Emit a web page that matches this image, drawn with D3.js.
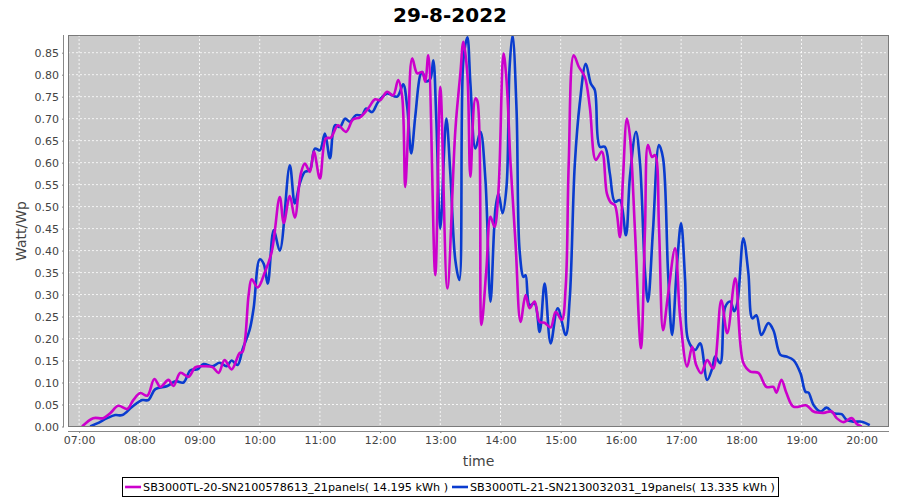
<!DOCTYPE html>
<html>
<head>
<meta charset="utf-8">
<script src="https://cdn.jsdelivr.net/npm/d3@7"></script>
<style>
  html, body { margin: 0; padding: 0; background: #fff; }
  svg { display: block; font-family: "DejaVu Sans", sans-serif; }
</style>
</head>
<body>
<svg id="chart" width="900" height="500"></svg>
<script>
const chartTitle = "29-8-2022";
const xAxisTitle = "time";
const yAxisTitle = "Watt/Wp";
const seriesNames = ["SB3000TL-20-SN2100578613_21panels( 14.195 kWh )", "SB3000TL-21-SN2130032031_19panels( 13.335 kWh )"];
const seriesColors = ["#cc00cc", "#0a3ccf"];
const xTickLabels = ["07:00","08:00","09:00","10:00","11:00","12:00","13:00","14:00","15:00","16:00","17:00","18:00","19:00","20:00"];
const yTickValues = [0,0.05,0.10,0.15,0.20,0.25,0.30,0.35,0.40,0.45,0.50,0.55,0.60,0.65,0.70,0.75,0.80,0.85];

const magentaTimes = ["07:03","07:14","07:24","07:31","07:39","07:48","07:54","08:01","08:08","08:15",
"08:21","08:29","08:34","08:41","08:49","08:56","09:04","09:13","09:19","09:25",
"09:32","09:40","09:43","09:49","09:52","09:58","10:05","10:12","10:20","10:24",
"10:30","10:35","10:41","10:45","10:50","10:54","11:00","11:06","11:11","11:18",
"11:26","11:33","11:40","11:48","11:55","12:00","12:07","12:13","12:18","12:22",
"12:25","12:28","12:32","12:37","12:42","12:45","12:48","12:55","13:00","13:07",
"13:15","13:20","13:23","13:27","13:30","13:35","13:37","13:41","13:46","13:50",
"13:54","13:58","14:03","14:06","14:10","14:15","14:20","14:25","14:29","14:34",
"14:39","14:44","14:50","14:55","15:01","15:05","15:08","15:13","15:18","15:24",
"15:29","15:35","15:41","15:46","15:50","15:54","15:59","16:02","16:06","16:09",
"16:14","16:20","16:24","16:27","16:31","16:34","16:38","16:42","16:47","16:54",
"16:59","17:06","17:11","17:15","17:20","17:26","17:32","17:40","17:46","17:54",
"18:02","18:09","18:17","18:25","18:32","18:35","18:40","18:45","18:52","19:05",
"19:12","19:22","19:30","19:35","19:42","19:50","19:55","20:00"];
const magentaValues = [0.0,0.019,0.019,0.03,0.047,0.04,0.06,0.076,0.07,0.108,
0.09,0.106,0.092,0.122,0.113,0.135,0.137,0.135,0.122,0.151,
0.13,0.167,0.17,0.30,0.335,0.316,0.35,0.397,0.522,0.463,
0.524,0.475,0.575,0.598,0.579,0.625,0.564,0.655,0.657,0.685,
0.67,0.698,0.703,0.723,0.744,0.742,0.761,0.753,0.788,0.75,
0.545,0.674,0.837,0.803,0.806,0.784,0.844,0.344,0.772,0.314,
0.674,0.803,0.875,0.80,0.568,0.746,0.74,0.231,0.36,0.477,
0.454,0.537,0.848,0.788,0.598,0.416,0.238,0.299,0.269,0.284,
0.238,0.236,0.225,0.261,0.242,0.318,0.598,0.844,0.818,0.795,
0.727,0.606,0.625,0.53,0.509,0.503,0.431,0.56,0.70,0.66,
0.447,0.178,0.447,0.64,0.613,0.617,0.45,0.219,0.30,0.405,
0.25,0.136,0.181,0.14,0.121,0.151,0.132,0.287,0.212,0.337,
0.145,0.125,0.122,0.09,0.09,0.077,0.106,0.076,0.045,0.048,
0.034,0.031,0.034,0.019,0.01,0.019,0.006,0.0];

const blueTimes = ["07:11","07:18","07:28","07:36","07:43","07:53","08:03","08:09","08:16","08:28",
"08:36","08:44","08:51","08:58","09:04","09:13","09:20","09:27","09:32","09:38",
"09:43","09:50","09:54","10:00","10:04","10:08","10:14","10:20","10:30","10:35",
"10:40","10:45","10:50","10:55","11:00","11:05","11:10","11:15","11:20","11:25",
"11:30","11:36","11:42","11:46","11:52","11:58","12:07","12:17","12:23","12:27",
"12:31","12:35","12:40","12:42","12:46","12:50","12:53","12:56","13:00","13:06",
"13:10","13:15","13:19","13:23","13:27","13:30","13:35","13:40","13:45","13:50",
"13:55","13:58","14:02","14:06","14:09","14:12","14:16","14:19","14:23","14:25",
"14:29","14:34","14:39","14:44","14:50","14:57","15:05","15:09","15:14","15:19",
"15:25","15:30","15:34","15:39","15:44","15:49","15:54","15:59","16:05","16:09",
"16:15","16:19","16:24","16:27","16:32","16:38","16:42","16:47","16:51","16:56",
"17:00","17:04","17:07","17:14","17:19","17:26","17:31","17:34","17:39","17:44",
"17:49","17:53","17:56","18:02","18:07","18:11","18:15","18:20","18:27","18:32",
"18:39","18:45","18:52","18:59","19:04","19:07","19:12","19:19","19:25","19:32",
"19:40","19:45","19:52","20:00","20:08"];
const blueValues = [0.0,0.007,0.019,0.026,0.026,0.045,0.06,0.06,0.085,0.092,
0.103,0.10,0.128,0.13,0.142,0.137,0.145,0.137,0.15,0.14,
0.176,0.22,0.27,0.38,0.37,0.325,0.447,0.40,0.594,0.507,
0.553,0.579,0.583,0.632,0.628,0.666,0.61,0.685,0.681,0.70,
0.693,0.708,0.708,0.723,0.715,0.738,0.757,0.75,0.778,0.727,
0.621,0.704,0.799,0.806,0.785,0.79,0.833,0.70,0.45,0.70,
0.575,0.378,0.333,0.833,0.885,0.78,0.632,0.67,0.56,0.284,
0.496,0.53,0.485,0.545,0.814,0.89,0.72,0.401,0.34,0.344,
0.276,0.28,0.215,0.325,0.189,0.269,0.208,0.291,0.594,0.735,
0.825,0.78,0.765,0.636,0.636,0.575,0.511,0.515,0.435,0.568,
0.67,0.60,0.352,0.284,0.447,0.64,0.61,0.35,0.208,0.371,
0.462,0.333,0.197,0.174,0.189,0.106,0.132,0.159,0.144,0.272,
0.284,0.262,0.28,0.428,0.35,0.246,0.253,0.208,0.235,0.219,
0.163,0.159,0.151,0.121,0.079,0.077,0.049,0.034,0.043,0.03,
0.028,0.015,0.011,0.011,0.003];

const parseT = d3.timeParse("%H:%M");
const svg = d3.select("#chart");

const plot = {left: 68, right: 889, top: 35, bottom: 427};

const x = d3.scaleTime()
  .domain([parseT("07:00"), parseT("20:00")])
  .range([79.1, 861.7]);
const y = d3.scaleLinear()
  .domain([0, 0.85])
  .range([426.5, 52.7]);

// title
svg.append("text")
  .attr("x", 450).attr("y", 22)
  .attr("text-anchor", "middle")
  .attr("font-size", 20).attr("font-weight", "bold")
  .attr("fill", "#000")
  .text(chartTitle);

// plot background
svg.append("rect")
  .attr("x", plot.left).attr("y", plot.top)
  .attr("width", plot.right - plot.left).attr("height", plot.bottom - plot.top)
  .attr("fill", "#cbcbcb");

svg.append("defs").append("clipPath").attr("id", "clip")
  .append("rect")
  .attr("x", plot.left).attr("y", plot.top)
  .attr("width", plot.right - plot.left).attr("height", plot.bottom - plot.top);

// grid
const grid = svg.append("g");
grid.selectAll("line.v").data(xTickLabels).join("line")
  .attr("x1", d => x(parseT(d))).attr("x2", d => x(parseT(d)))
  .attr("y1", plot.top).attr("y2", plot.bottom)
  .attr("stroke", "#fff").attr("stroke-width", 0.8).attr("stroke-dasharray", "2,2");
grid.selectAll("line.h").data(yTickValues).join("line")
  .attr("x1", plot.left).attr("x2", plot.right)
  .attr("y1", d => y(d)).attr("y2", d => y(d))
  .attr("stroke", "#fff").attr("stroke-width", 0.8).attr("stroke-dasharray", "2,2");

// series
const seriesData = [
  magentaTimes.map((t, i) => ({t: parseT(t), v: magentaValues[i]})),
  blueTimes.map((t, i) => ({t: parseT(t), v: blueValues[i]}))
];
const line = d3.line()
  .x(d => x(d.t)).y(d => y(d.v))
  .curve(d3.curveCatmullRom.alpha(0.5));
const lines = svg.append("g").attr("clip-path", "url(#clip)");
[1, 0].forEach(i => {
  lines.append("path")
    .attr("d", line(seriesData[i]))
    .attr("fill", "none")
    .attr("stroke", seriesColors[i])
    .attr("stroke-width", 2.6)
    .attr("stroke-linejoin", "round");
});

// plot outline
svg.append("rect")
  .attr("x", plot.left + 0.5).attr("y", plot.top + 0.5)
  .attr("width", plot.right - plot.left - 1).attr("height", plot.bottom - plot.top - 1)
  .attr("fill", "none").attr("stroke", "#7a7a7a").attr("stroke-width", 1);

// axes
const xAxis = d3.axisBottom(x)
  .tickValues(xTickLabels.map(parseT))
  .tickFormat(d3.timeFormat("%H:%M"))
  .tickSizeInner(2).tickSizeOuter(0).tickPadding(3);
const gx = svg.append("g").attr("transform", `translate(0,${plot.bottom + 4})`).call(xAxis);
gx.select(".domain").attr("d", `M${plot.left},0.5H${plot.right}`).attr("stroke", "#888");
gx.selectAll(".tick line").attr("stroke", "#888");
gx.selectAll("text").attr("font-size", 11).attr("fill", "#444").attr("font-family", "DejaVu Sans");

const yAxis = d3.axisLeft(y)
  .tickValues(yTickValues)
  .tickFormat(d3.format(".2f"))
  .tickSizeInner(2).tickSizeOuter(0).tickPadding(3);
const gy = svg.append("g").attr("transform", `translate(${plot.left - 4},0)`).call(yAxis);
gy.select(".domain").attr("d", `M-0.5,${plot.top}V${plot.bottom}`).attr("stroke", "#888");
gy.selectAll(".tick line").attr("stroke", "#888");
gy.selectAll("text").attr("font-size", 11).attr("fill", "#444").attr("font-family", "DejaVu Sans");

// axis titles
svg.append("text")
  .attr("x", (plot.left + plot.right) / 2).attr("y", 466)
  .attr("text-anchor", "middle").attr("font-size", 14).attr("fill", "#444")
  .text(xAxisTitle);
svg.append("text")
  .attr("transform", `translate(26,${(plot.top + plot.bottom) / 2}) rotate(-90)`)
  .attr("text-anchor", "middle").attr("font-size", 14).attr("fill", "#444")
  .text(yAxisTitle);

// legend
const legend = svg.append("g");
const items = seriesNames.map((name, i) => {
  const g = legend.append("g");
  g.append("line").attr("x1", 0).attr("x2", 16).attr("y1", 0).attr("y2", 0)
    .attr("stroke", seriesColors[i]).attr("stroke-width", 2.6);
  const t = g.append("text").attr("x", 18).attr("y", 4)
    .attr("font-size", 11.2).attr("fill", "#000").text(name);
  return {g, w: 18 + t.node().getComputedTextLength()};
});
const gap = 4, pad = 3;
const totalW = d3.sum(items, d => d.w) + gap * (items.length - 1) + pad * 2;
const lx = 450 - totalW / 2;
let cx = lx + pad;
items.forEach(it => { it.g.attr("transform", `translate(${cx},487)`); cx += it.w + gap; });
legend.insert("rect", ":first-child")
  .attr("x", Math.round(lx) + 0.5).attr("y", 477.5)
  .attr("width", Math.round(totalW)).attr("height", 19)
  .attr("fill", "#fff").attr("stroke", "#000").attr("stroke-width", 1);
</script>
</body>
</html>
